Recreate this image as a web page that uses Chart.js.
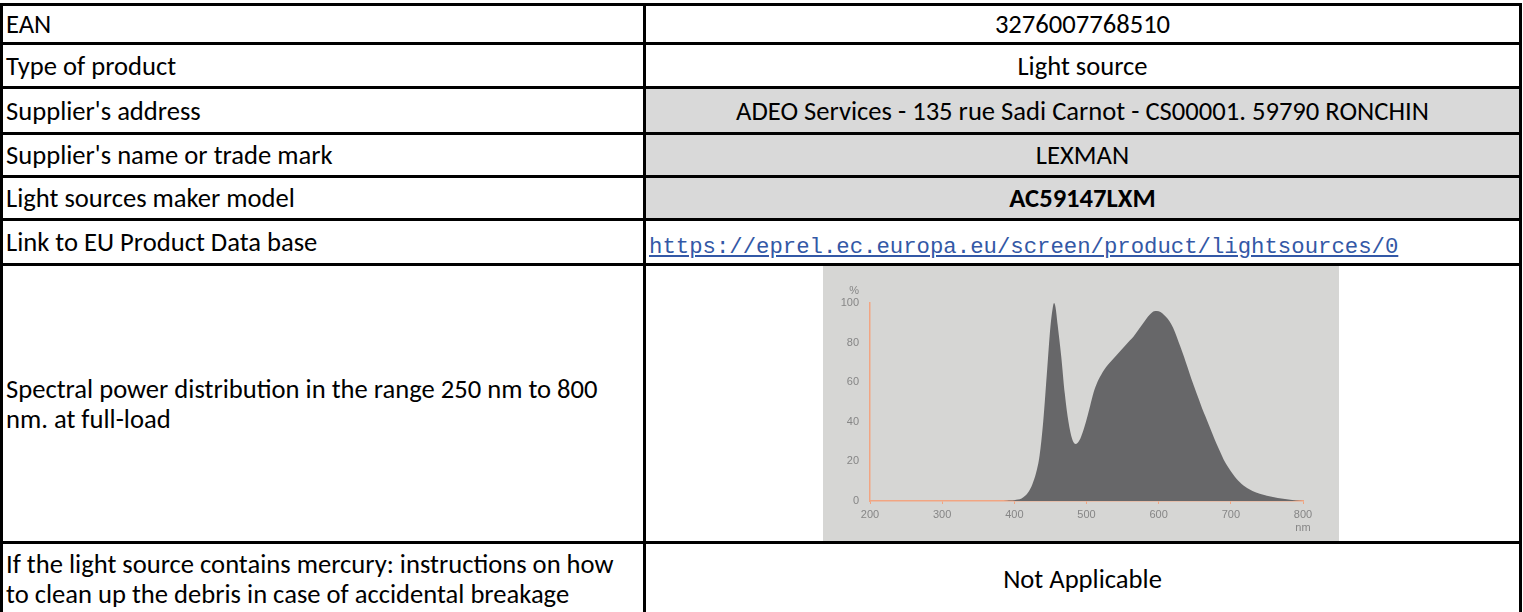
<!DOCTYPE html>
<html>
<head>
<meta charset="utf-8">
<script src="https://cdn.jsdelivr.net/npm/chart.js@4.4.1/dist/chart.umd.min.js"></script>
<style>
  html, body { margin: 0; padding: 0; background: #fff; overflow: hidden; }
  body { width: 1523px; height: 612px; position: relative; font-family: Carlito, Calibri, Lato, sans-serif; font-size: 26.6px; color: #000; }
  .cell { position: absolute; box-sizing: border-box; border: 3px solid #000; display: flex; align-items: center; line-height: 30px; }
  .left { padding-left: 3px; }
  .right { justify-content: center; text-align: center; }
  .grey { background: #d9d9d9; }
  .bold { font-weight: bold; }
  .link { justify-content: flex-start; padding: 10px 0 0 3px; font-family: "Liberation Mono", monospace; font-size: 22.3px; color: #3358a6; text-decoration: underline; }
  #chartBox { position: absolute; left: 823px; top: 266px; width: 516px; height: 275px; background: #d6d6d4; }
</style>
</head>
<body>
<div id="table"></div>
<div id="chartBox"><canvas id="spectrum"></canvas></div>
<script>
'use strict';

// table rows
var rowLabels = [
  'EAN',
  'Type of product',
  "Supplier's address",
  "Supplier's name or trade mark",
  'Light sources maker model',
  'Link to EU Product Data base',
  'Spectral power distribution in the range 250 nm to 800<br>nm. at full-load',
  'If the light source contains mercury: instructions on how<br>to clean up the debris in case of accidental breakage'
];
var rowValues = [
  '3276007768510',
  'Light source',
  'ADEO Services - 135 rue Sadi Carnot - CS00001. 59790 RONCHIN',
  'LEXMAN',
  'AC59147LXM',
  'https://eprel.ec.europa.eu/screen/product/lightsources/0',
  '',
  'Not Applicable'
];
var rowLines = [3, 42, 86, 132, 175, 218, 263, 541, 614];

// spectrum
var wavelengthNm = [200, 250, 300, 350, 380, 390, 395, 400, 405, 410, 415, 420, 425, 430, 435, 440, 445, 450, 453, 455, 457, 460, 465, 470, 475, 480, 485, 490, 495, 500, 505, 510, 515, 520, 525, 530, 535, 540, 545, 550, 555, 560, 565, 570, 575, 580, 585, 590, 595, 600, 605, 610, 615, 620, 625, 630, 635, 640, 645, 650, 655, 660, 665, 670, 675, 680, 685, 690, 695, 700, 705, 710, 715, 720, 725, 730, 740, 750, 760, 770, 780, 790, 800];
var relativePower = [0, 0, 0, 0, 0, 0.1, 0.2, 0.4, 0.7, 1.3, 2.6, 4.8, 8.5, 14, 23, 40, 64, 88, 97, 100, 98, 89, 73, 54, 40, 31.5, 28.8, 30.5, 35, 41, 48, 55, 60, 63.5, 66.5, 69, 71, 73, 75, 77, 79, 81, 83, 85.5, 88, 90.5, 93, 95, 96, 95.8, 94.8, 93, 90.8, 87.5, 83, 78, 73, 67.5, 62, 57, 52, 47, 42.5, 38, 33.5, 29, 25, 21, 17.8, 15, 12.5, 10.3, 8.6, 7.2, 6, 5, 3.6, 2.7, 1.9, 1.2, 0.7, 0.3, 0];
var xTicks = [200, 300, 400, 500, 600, 700, 800];
var yTicks = [0, 20, 40, 60, 80, 100];

var table = document.getElementById('table');
for (var i = 0; i < rowLabels.length; i++) {
  var rowTop = rowLines[i];
  var rowH = rowLines[i + 1] - rowTop + 3;
  var l = document.createElement('div');
  l.className = 'cell left';
  l.style.cssText = 'left:0;top:' + rowTop + 'px;width:646px;height:' + rowH + 'px;';
  l.innerHTML = '<span>' + rowLabels[i] + '</span>';
  table.appendChild(l);

  var r = document.createElement('div');
  r.className = 'cell right';
  if (i >= 2 && i <= 4) r.className += ' grey';
  if (i === 4) r.className += ' bold';
  if (i === 5) r.className = 'cell link';
  r.style.cssText = 'left:643px;top:' + rowTop + 'px;width:879px;height:' + rowH + 'px;';
  r.innerHTML = '<span>' + rowValues[i] + '</span>';
  table.appendChild(r);
}

var points = wavelengthNm.map(function (nm, k) { return { x: nm, y: relativePower[k] }; });
var axisOrange = '#f2a582';
var tickGrey = '#868686';

var unitLabel = {
  id: 'unitLabel',
  afterDraw: function (chart) {
    var ctx = chart.ctx, a = chart.chartArea;
    ctx.save();
    ctx.font = '11px "Liberation Sans", Arial, sans-serif';
    ctx.fillStyle = tickGrey;
    ctx.textAlign = 'right';
    ctx.textBaseline = 'middle';
    ctx.fillText('%', a.left - 11, a.top - 12);
    ctx.restore();
  }
};

new Chart(document.getElementById('spectrum'), {
  type: 'line',
  data: {
    datasets: [{
      data: points,
      fill: 'origin',
      backgroundColor: '#676769',
      borderWidth: 0,
      pointRadius: 0,
      cubicInterpolationMode: 'monotone'
    }]
  },
  options: {
    responsive: true,
    maintainAspectRatio: false,
    animation: false,
    layout: { padding: { top: 37, right: 36, left: 0, bottom: 0 } },
    plugins: { legend: { display: false }, tooltip: { enabled: false } },
    scales: {
      x: {
        type: 'linear',
        min: 200,
        max: 800,
        z: 1,
        afterFit: function (s) { s.height = 40; },
        afterBuildTicks: function (s) { s.ticks = xTicks.map(function (v) { return { value: v }; }); },
        border: { color: axisOrange, width: 1.5 },
        grid: { drawOnChartArea: false, drawTicks: true, tickLength: 3, color: axisOrange, lineWidth: 1 },
        ticks: {
          color: tickGrey,
          padding: 4,
          font: { family: '"Liberation Sans", Arial, sans-serif', size: 11 },
          callback: function (v) { return v === 800 ? ['800', 'nm'] : String(v); }
        }
      },
      y: {
        min: 0,
        max: 100,
        z: 1,
        afterFit: function (s) { s.width = 47; },
        afterBuildTicks: function (s) { s.ticks = yTicks.map(function (v) { return { value: v }; }); },
        border: { color: axisOrange, width: 1.5 },
        grid: { display: false, drawTicks: false },
        ticks: {
          color: tickGrey,
          padding: 11,
          font: { family: '"Liberation Sans", Arial, sans-serif', size: 11 }
        }
      }
    }
  },
  plugins: [unitLabel]
});
</script>
</body>
</html>
